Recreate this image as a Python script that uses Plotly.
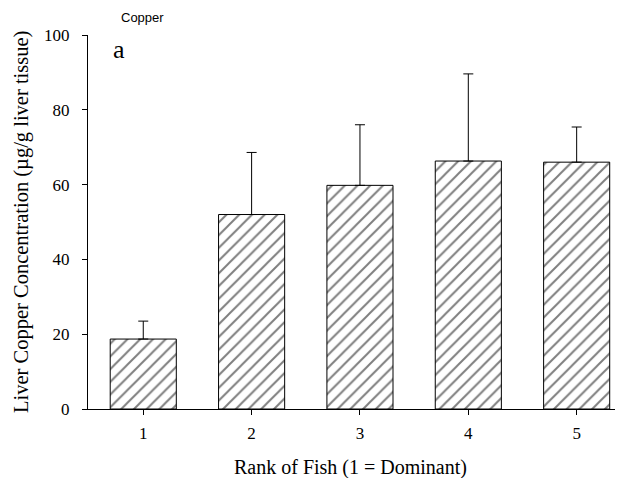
import plotly.graph_objects as go

ranks = [1, 2, 3, 4, 5]
copper_mean = [18.7, 52.0, 59.8, 66.3, 66.0]
copper_se = [4.8, 16.6, 16.2, 23.3, 9.4]
y_ticks = [0, 20, 40, 60, 80, 100]
x_ticks = [1, 2, 3, 4, 5]

serif = "Liberation Serif, Times New Roman, serif"

fig = go.Figure()
fig.add_trace(go.Bar(
    x=ranks, y=copper_mean, width=0.61,
    marker=dict(color="white", line=dict(color="black", width=1),
                pattern=dict(shape="/", fgcolor="black", bgcolor="white",
                             size=9, solidity=0.22)),
    error_y=dict(type="data", symmetric=False, array=copper_se,
                 arrayminus=[0] * len(copper_se),
                 color="black", thickness=1, width=5),
    showlegend=False,
))

fig.update_layout(
    width=615, height=470,
    margin=dict(l=80, r=3, t=27, b=69),
    paper_bgcolor="white", plot_bgcolor="white",
    font=dict(family=serif, size=17, color="black"),
    xaxis=dict(range=[0.49, 5.4], tickvals=x_ticks, ticktext=[str(v) for v in x_ticks],
               automargin=False,
               showgrid=False, zeroline=False, showline=True, linecolor="black",
               linewidth=1, ticks="outside", ticklen=5, tickcolor="black",
               ticklabelstandoff=4,
               tickfont=dict(family=serif, size=17)),
    yaxis=dict(range=[0, 100], tickvals=y_ticks, showgrid=False, zeroline=False,
               automargin=False,
               showline=True, linecolor="black", linewidth=1, ticks="outside",
               ticklen=5, tickcolor="black", ticklabelstandoff=9,
               tickfont=dict(family=serif, size=17)),
    annotations=[
        dict(text="Rank of Fish (1 = Dominant)", xref="paper", yref="paper",
             x=0.4925, y=0, yshift=-58, xanchor="center", yanchor="middle",
             showarrow=False, font=dict(family=serif, size=20)),
        dict(text="Liver Copper Concentration (µg/g liver tissue)", xref="paper",
             yref="paper", x=0, y=0.5, xshift=-67, textangle=-90,
             xanchor="center", yanchor="middle", showarrow=False,
             font=dict(family=serif, size=20.5)),
        dict(text="Copper", xref="paper", yref="paper", x=0.103, y=1.048,
             xanchor="center", yanchor="middle", showarrow=False,
             font=dict(family="Liberation Sans, Arial, sans-serif", size=13)),
        dict(text="a", xref="paper", yref="paper", x=0.058, y=0.96,
             xanchor="center", yanchor="middle", showarrow=False,
             font=dict(family=serif, size=26)),
    ],
)

fig.write_html("out.html")
